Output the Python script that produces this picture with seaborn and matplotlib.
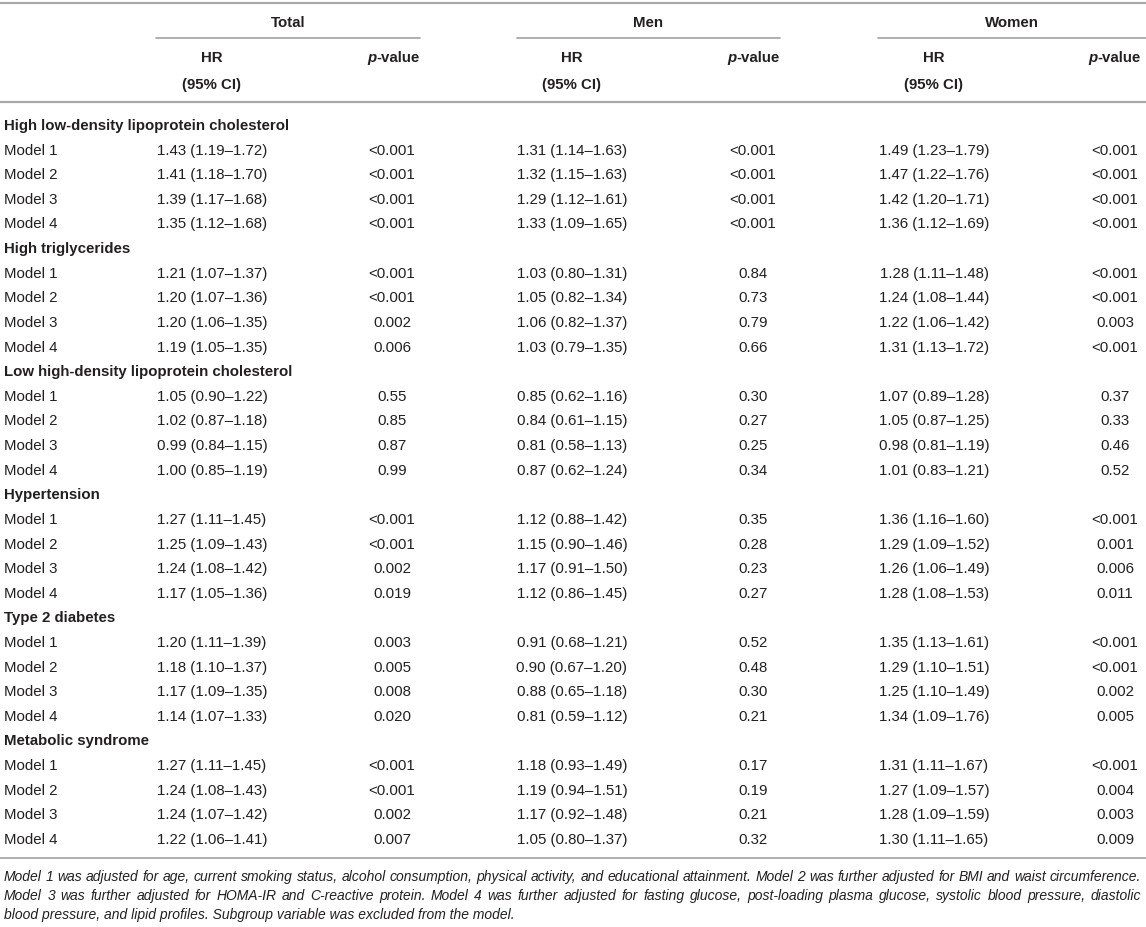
import matplotlib
matplotlib.use("Agg")
import matplotlib.pyplot as plt
import seaborn as sns

sns.set_theme(style="white")
plt.rcParams['font.family'] = ['Liberation Sans', 'DejaVu Sans']

# data
groups = ['High low-density lipoprotein cholesterol', 'High triglycerides',
          'Low high-density lipoprotein cholesterol', 'Hypertension',
          'Type 2 diabetes', 'Metabolic syndrome']
models = ['Model 1', 'Model 2', 'Model 3', 'Model 4']

total_hr = ['1.43 (1.19–1.72)', '1.41 (1.18–1.70)', '1.39 (1.17–1.68)', '1.35 (1.12–1.68)',
            '1.21 (1.07–1.37)', '1.20 (1.07–1.36)', '1.20 (1.06–1.35)', '1.19 (1.05–1.35)',
            '1.05 (0.90–1.22)', '1.02 (0.87–1.18)', '0.99 (0.84–1.15)', '1.00 (0.85–1.19)',
            '1.27 (1.11–1.45)', '1.25 (1.09–1.43)', '1.24 (1.08–1.42)', '1.17 (1.05–1.36)',
            '1.20 (1.11–1.39)', '1.18 (1.10–1.37)', '1.17 (1.09–1.35)', '1.14 (1.07–1.33)',
            '1.27 (1.11–1.45)', '1.24 (1.08–1.43)', '1.24 (1.07–1.42)', '1.22 (1.06–1.41)']
total_p = ['<0.001', '<0.001', '<0.001', '<0.001',
           '<0.001', '<0.001', '0.002', '0.006',
           '0.55', '0.85', '0.87', '0.99',
           '<0.001', '<0.001', '0.002', '0.019',
           '0.003', '0.005', '0.008', '0.020',
           '<0.001', '<0.001', '0.002', '0.007']

men_hr = ['1.31 (1.14–1.63)', '1.32 (1.15–1.63)', '1.29 (1.12–1.61)', '1.33 (1.09–1.65)',
          '1.03 (0.80–1.31)', '1.05 (0.82–1.34)', '1.06 (0.82–1.37)', '1.03 (0.79–1.35)',
          '0.85 (0.62–1.16)', '0.84 (0.61–1.15)', '0.81 (0.58–1.13)', '0.87 (0.62–1.24)',
          '1.12 (0.88–1.42)', '1.15 (0.90–1.46)', '1.17 (0.91–1.50)', '1.12 (0.86–1.45)',
          '0.91 (0.68–1.21)', '0.90 (0.67–1.20)', '0.88 (0.65–1.18)', '0.81 (0.59–1.12)',
          '1.18 (0.93–1.49)', '1.19 (0.94–1.51)', '1.17 (0.92–1.48)', '1.05 (0.80–1.37)']
men_p = ['<0.001', '<0.001', '<0.001', '<0.001',
         '0.84', '0.73', '0.79', '0.66',
         '0.30', '0.27', '0.25', '0.34',
         '0.35', '0.28', '0.23', '0.27',
         '0.52', '0.48', '0.30', '0.21',
         '0.17', '0.19', '0.21', '0.32']

women_hr = ['1.49 (1.23–1.79)', '1.47 (1.22–1.76)', '1.42 (1.20–1.71)', '1.36 (1.12–1.69)',
            '1.28 (1.11–1.48)', '1.24 (1.08–1.44)', '1.22 (1.06–1.42)', '1.31 (1.13–1.72)',
            '1.07 (0.89–1.28)', '1.05 (0.87–1.25)', '0.98 (0.81–1.19)', '1.01 (0.83–1.21)',
            '1.36 (1.16–1.60)', '1.29 (1.09–1.52)', '1.26 (1.06–1.49)', '1.28 (1.08–1.53)',
            '1.35 (1.13–1.61)', '1.29 (1.10–1.51)', '1.25 (1.10–1.49)', '1.34 (1.09–1.76)',
            '1.31 (1.11–1.67)', '1.27 (1.09–1.57)', '1.28 (1.09–1.59)', '1.30 (1.11–1.65)']
women_p = ['<0.001', '<0.001', '<0.001', '<0.001',
           '<0.001', '<0.001', '0.003', '<0.001',
           '0.37', '0.33', '0.46', '0.52',
           '<0.001', '0.001', '0.006', '0.011',
           '<0.001', '<0.001', '0.002', '0.005',
           '<0.001', '0.004', '0.003', '0.009']

notes = ['Model 1 was adjusted for age, current smoking status, alcohol consumption, physical activity, '
         'and educational attainment. Model 2 was further adjusted for BMI and waist circumference.',
         'Model 3 was further adjusted for HOMA-IR and C-reactive protein. Model 4 was further adjusted '
         'for fasting glucose, post-loading plasma glucose, systolic blood pressure, diastolic',
         'blood pressure, and lipid profiles. Subgroup variable was excluded from the model.']

# layout (pixels)
W, H = 1146, 928
txt = '#231f20'
rule = '#a7a9ac'
fs = 10.8
sections = [('Total', 156, 420, 212, 392),
            ('Men', 517, 780, 572, 753),
            ('Women', 878, 1146, 934, 1115)]
columns = [(total_hr, total_p), (men_hr, men_p), (women_hr, women_p)]
row0 = 126
pitch = 24.62

fig = plt.figure(figsize=(W / 100, H / 100), dpi=100)
ax = fig.add_axes([0, 0, 1, 1])
ax.set_xlim(0, W)
ax.set_ylim(H, 0)
ax.axis('off')
renderer = fig.canvas.get_renderer()


def width_px(s, **kw):
    t = ax.text(0, 0, s, **kw)
    w = t.get_window_extent(renderer).width
    t.remove()
    return w


ax.plot([0, W], [4, 4], color=rule, lw=1.6)
ax.plot([0, W], [103, 103], color=rule, lw=1.6)

for name, x0, x1, xhr, xp in sections:
    ax.text((x0 + x1) / 2, 23, name, ha='center', va='center', fontsize=fs,
            fontweight='bold', color=txt)
    ax.plot([x0, x1], [39, 39], color=rule, lw=1.3)
    ax.text(xhr, 58, 'HR', ha='center', va='center', fontsize=fs, fontweight='bold', color=txt)
    ax.text(xhr, 85, '(95% CI)', ha='center', va='center', fontsize=fs, fontweight='bold', color=txt)
    # p-value header: italic p + "-value", right aligned to the rule end
    xr = min(x1, W - 5)
    ax.text(xr, 58, '-value', ha='right', va='center', fontsize=fs, fontweight='bold', color=txt)
    wv = width_px('-value', fontsize=fs, fontweight='bold')
    ax.text(xr - wv, 58, 'p', ha='right', va='center', fontsize=fs, fontweight='bold',
            fontstyle='italic', color=txt)

i = 0
for g, group in enumerate(groups):
    y = row0 + g * 5 * pitch
    ax.text(4, y, group, ha='left', va='center', fontsize=fs, fontweight='bold', color=txt)
    for m, model in enumerate(models):
        y = row0 + (g * 5 + m + 1) * pitch
        ax.text(4, y, model, ha='left', va='center', fontsize=fs, color=txt)
        for (name, x0, x1, xhr, xp), (hr, p) in zip(sections, columns):
            ax.text(xhr, y, hr[i], ha='center', va='center', fontsize=fs, color=txt)
            ax.text(xp, y, p[i], ha='center', va='center', fontsize=fs, color=txt)
        i += 1

ax.plot([0, W], [859, 859], color=rule, lw=1.3)

# footnote, justified (last line ragged)
nfs = fs * (1137 / width_px(notes[0], fontsize=fs, fontstyle='italic'))
left, right = 4, 1141
for k, line in enumerate(notes):
    y = 877 + k * 19.2
    if k == len(notes) - 1:
        ax.text(left, y, line, ha='left', va='center', fontsize=nfs,
                fontstyle='italic', color=txt)
        continue
    words = line.split(' ')
    ws = [width_px(w_, fontsize=nfs, fontstyle='italic') for w_ in words]
    gap = (right - left - sum(ws)) / (len(words) - 1)
    x = left
    for w_, wd in zip(words, ws):
        ax.text(x, y, w_, ha='left', va='center', fontsize=nfs, fontstyle='italic', color=txt)
        x += wd + gap

fig.savefig('out.png', dpi=100)
